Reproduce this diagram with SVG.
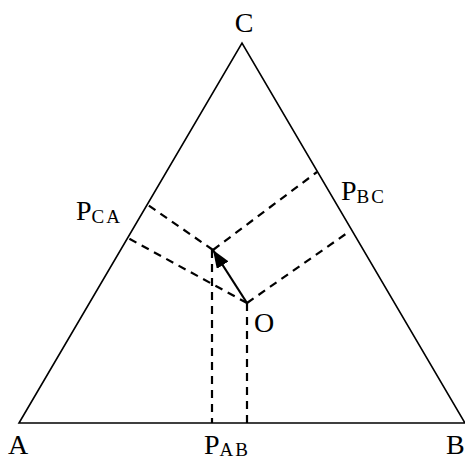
<svg xmlns="http://www.w3.org/2000/svg" width="465" height="461" viewBox="0 0 465 461">
<style>
.edge{fill:none;stroke:#000;stroke-width:1.6}
.dash{fill:none;stroke:#000;stroke-width:2.2;stroke-dasharray:8,6}
.arrow{fill:none;stroke:#000;stroke-width:2.2}
.lbl{font-family:"Liberation Serif","Times New Roman",serif;font-size:28px;fill:#000}
.sub{font-size:19px;letter-spacing:2px}
</style>
<defs>
<marker id="ah" markerUnits="userSpaceOnUse" markerWidth="18" markerHeight="14" refX="18" refY="7" orient="auto">
<path d="M0,0 L18,7 L0,14 z" fill="#000"/>
</marker>
</defs>
<rect width="465" height="461" fill="#fff"/>
<g id="triangle">
<polygon class="edge" points="19,423 465,423 242,43"/>
</g>
<g id="connectors">
<line class="dash" x1="213" y1="250" x2="317" y2="172"/>
<line class="dash" x1="247" y1="303" x2="350" y2="231"/>
<line class="dash" x1="213" y1="250" x2="148" y2="205"/>
<line class="dash" x1="247" y1="303" x2="128" y2="238"/>
<line class="dash" x1="212" y1="250" x2="212" y2="423"/>
<line class="dash" x1="247" y1="303" x2="247" y2="423"/>
<line class="arrow" x1="247" y1="303" x2="213" y2="250" marker-end="url(#ah)"/>
</g>
<g id="node-C"><text class="lbl" x="244" y="32" text-anchor="middle">C</text></g>
<g id="node-A"><text class="lbl" x="8" y="454">A</text></g>
<g id="node-B"><text class="lbl" x="446" y="454">B</text></g>
<g id="node-O"><text class="lbl" x="254" y="332">O</text></g>
<g id="node-PAB"><text class="lbl" x="204" y="454">P<tspan class="sub" dy="2">AB</tspan></text></g>
<g id="node-PBC"><text class="lbl" x="341" y="200">P<tspan class="sub" dy="3">BC</tspan></text></g>
<g id="node-PCA"><text class="lbl" x="76" y="220">P<tspan class="sub" dy="3">CA</tspan></text></g>
</svg>
